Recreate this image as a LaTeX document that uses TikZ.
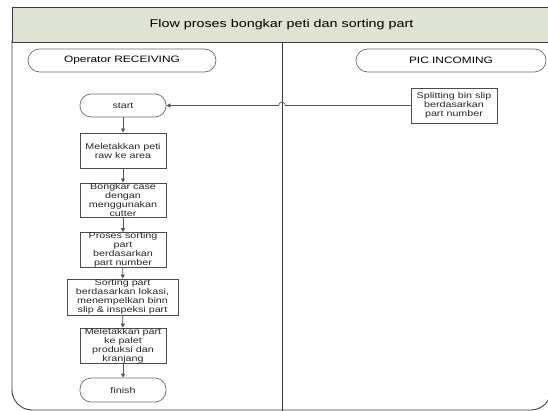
\documentclass[tikz,border=0pt]{standalone}
\usepackage{fontspec}
\setmainfont{Liberation Sans}[FakeStretch=1.28]
\usetikzlibrary{arrows.meta}
\definecolor{titlefill}{RGB}{223,227,210}
\definecolor{framegray}{RGB}{60,60,60}
\definecolor{boxgray}{RGB}{75,75,75}
\definecolor{pillgray}{RGB}{105,105,105}
\definecolor{linkgray}{RGB}{85,85,85}
\begin{document}
\begin{tikzpicture}[x=1pt,y=-1pt,
  frame/.style={draw=framegray,line width=0.9pt},
  boxtext/.style={font=\fontsize{8.4pt}{9pt}\selectfont,align=center,text=black!85},
  lanehead/.style={draw=pillgray,line width=0.7pt,rounded corners=11.5pt,
    minimum height=23pt,inner sep=0pt,font=\fontsize{9.3pt}{10pt}\selectfont},
  terminal/.style={boxtext,draw=pillgray,line width=0.7pt,rounded corners=11pt,
    minimum width=86pt,minimum height=23pt,inner sep=0pt},
  stepbox/.style={boxtext,draw=boxgray,line width=0.8pt,
    minimum width=86pt,minimum height=35pt,inner sep=0pt},
  link/.style={draw=linkgray,line width=0.7pt,-{Triangle[length=4pt,width=4pt]}}
]
\useasboundingbox (0,0) rectangle (548,411);
\clip (0,0) rectangle (548,411);

% pool frame with title band and two lanes
\fill[titlefill] (12,7) rectangle (556,42);
\draw[frame] (556,7) -- (12,7) -- (12,42);
\draw[frame,rounded corners=20pt] (12,40) -- (12,410) -- (551,410) -- (551,40);
\draw[frame] (12,42) -- (556,42);
\draw[frame] (282,42) -- (282,411);
\node[font=\fontsize{11.2pt}{12pt}\selectfont] (title) at (281.5,24.5)
  {Flow proses bongkar peti dan sorting part};

% lane headers
\node[lanehead,minimum width=188pt] (laneA) at (122,60.5) {Operator RECEIVING};
\node[lanehead,minimum width=190pt] (laneB) at (451,60.5) {PIC INCOMING};

% flow steps
\node[terminal] (start) at (123,105.5) {start};
\node[stepbox] (s1) at (123,150.5) {Meletakkan peti\\raw ke area};
\node[stepbox,minimum height=34pt] (s2) at (123,200) {Bongkar case\\dengan\\menggunakan\\cutter};
\node[stepbox,minimum height=34pt] (s3) at (123,250) {Proses sorting\\part\\berdasarkan\\part number};
\node[stepbox,minimum width=111pt,minimum height=36pt] (s4) at (122.5,297)
  {Sorting part\\berdasarkan lokasi,\\menempelkan binn\\slip \& inspeksi part};
\node[stepbox] (s5) at (123,345.5) {Meletakkan part\\ke palet\\produksi dan\\kranjang};
\node[terminal,minimum height=24pt] (finish) at (123,390) {finish};
\node[stepbox] (split) at (454,105.5) {Splitting bin slip\\berdasarkan\\part number};

% connectors
\draw[link] (start) -- (s1);
\draw[link] (s1) -- (s2);
\draw[link] (s2) -- (s3);
\draw[link] (s3) -- (s4);
\draw[link] (s4) -- (s5);
\draw[link] (s5) -- (finish);
\coordinate (hopR) at (285.5,105.5);
\coordinate (hopL) at (278.5,105.5);
\draw[link] (split.west) -- (hopR) .. controls (284.5,101) and (279.5,101) .. (hopL) -- (start.east);
\end{tikzpicture}
\end{document}
